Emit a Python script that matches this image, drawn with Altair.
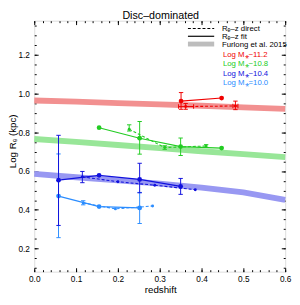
import altair as alt
import pandas as pd

# ---------------- data ----------------
band_z = [0.0, 0.1, 0.2, 0.3, 0.4, 0.5, 0.6]
band_red = [0.963, 0.957, 0.950, 0.943, 0.936, 0.928, 0.920]
band_green = [0.765, 0.750, 0.734, 0.718, 0.702, 0.687, 0.672]
band_blue = [0.585, 0.568, 0.552, 0.535, 0.515, 0.490, 0.452]

red_fit_z = [0.351, 0.448]
red_fit_r = [0.960, 0.976]
red_fit_lo = [0.918, None]
red_fit_hi = [1.004, None]
red_dir_z = [0.362, 0.481]
red_dir_r = [0.932, 0.935]
red_dir_lo = [0.918, 0.916]
red_dir_hi = [0.948, 0.960]
red_dir_zlo = [0.345, 0.475]
red_dir_zhi = [0.381, 0.487]

green_fit_z = [0.155, 0.252, 0.350, 0.448]
green_fit_r = [0.823, 0.769, 0.726, 0.718]
green_fit_lo = [None, 0.687, 0.680, None]
green_fit_hi = [None, 0.855, 0.770, None]
green_dir_z = [0.227, 0.312, 0.411]
green_dir_r = [0.815, 0.721, 0.729]
green_dir_lo = [0.806, 0.712, 0.722]
green_dir_hi = [0.838, 0.730, 0.736]

blue_fit_z = [0.058, 0.155, 0.252, 0.350]
blue_fit_r = [0.553, 0.578, 0.557, 0.521]
blue_fit_lo = [0.320, None, 0.488, 0.480]
blue_fit_hi = [0.784, None, 0.640, 0.562]
blue_dir_z = [0.115, 0.200, 0.288, 0.385]
blue_dir_r = [0.570, 0.545, 0.527, 0.504]
blue_dir_lo = [0.540, None, None, None]
blue_dir_hi = [0.598, None, None, None]

lblue_fit_z = [0.058, 0.155, 0.252]
lblue_fit_r = [0.471, 0.417, 0.410]
lblue_fit_lo = [0.257, None, 0.330]
lblue_fit_hi = [0.688, None, 0.490]
lblue_dir_z = [0.117, 0.194, 0.283]
lblue_dir_r = [0.436, 0.405, 0.420]
lblue_dir_lo = [0.426, None, None]
lblue_dir_hi = [0.447, None, None]

x_major = [0.0, 0.1, 0.2, 0.3, 0.4, 0.5, 0.6]
x_minor = [round(i * 0.02, 2) for i in range(31)]
y_major = [0.2, 0.4, 0.6, 0.8, 1.0, 1.2]
y_minor = [round(0.1 + i * 0.05, 2) for i in range(26)]

title_text = "Disc–dominated"
legend_top = ["Rₑ–z direct", "Rₑ–z fit", "Furlong et al. 2015"]
legend_mass = ["Log M⁎~11.2", "Log M⁎~10.8", "Log M⁎~10.4", "Log M⁎=10.0"]

# ---------------- styling ----------------
FONT = "Liberation Sans"
C_RED, C_GREEN, C_BLUE, C_LBLUE = "#f00000", "#22cc22", "#1010dd", "#2a8cff"
B_RED, B_GREEN, B_BLUE = "#f29090", "#98e698", "#9898f2"

xs = alt.Scale(domain=[0.0, 0.6], nice=False, zero=False)
ys = alt.Scale(domain=[0.082, 1.374], nice=False, zero=False)


def X(f, axis=None):
    return alt.X(f, type="quantitative", scale=xs, axis=axis)


def Y(f, axis=None):
    return alt.Y(f, type="quantitative", scale=ys, axis=axis)


layers = []

# Furlong bands
for vals, col in [(band_red, B_RED), (band_green, B_GREEN), (band_blue, B_BLUE)]:
    df = pd.DataFrame({"z": band_z, "r": vals})
    layers.append(alt.Chart(df).mark_line(color=col, strokeWidth=6, strokeCap="butt")
                  .encode(x=X("z"), y=Y("r")))


def series(color, fz, fr, flo, fhi, dz, dr, dlo, dhi, dzlo=None, dzhi=None):
    out = []
    fdf = pd.DataFrame({"z": fz, "r": fr, "lo": flo, "hi": fhi})
    ddf = pd.DataFrame({"z": dz, "r": dr, "lo": dlo, "hi": dhi})
    if dzlo is not None:
        ddf["zlo"] = dzlo
        ddf["zhi"] = dzhi
    err = pd.concat([fdf, ddf[["z", "r", "lo", "hi"]]]).dropna(subset=["lo", "hi"])
    err = err.astype(float)
    out.append(alt.Chart(fdf).mark_line(color=color, strokeWidth=1.2).encode(x=X("z"), y=Y("r")))
    out.append(alt.Chart(ddf).mark_line(color=color, strokeWidth=1.1, strokeDash=[3, 2])
               .encode(x=X("z"), y=Y("r")))
    out.append(alt.Chart(err).mark_rule(color=color, strokeWidth=1)
               .encode(x=X("z"), y=Y("lo"), y2=alt.Y2("hi")))
    for f in ["lo", "hi"]:
        out.append(alt.Chart(err).mark_tick(color=color, orient="horizontal", size=4.5,
                                            thickness=1, opacity=1)
                   .encode(x=X("z"), y=Y(f)))
    if dzlo is not None:
        out.append(alt.Chart(ddf).mark_rule(color=color, strokeWidth=1)
                   .encode(x=X("zlo"), x2=alt.X2("zhi"), y=Y("r")))
        for f in ["zlo", "zhi"]:
            out.append(alt.Chart(ddf).mark_tick(color=color, orient="vertical", size=4.5,
                                                thickness=1, opacity=1)
                       .encode(x=X(f), y=Y("r")))
    out.append(alt.Chart(fdf).mark_circle(color=color, size=24, opacity=1)
               .encode(x=X("z"), y=Y("r")))
    out.append(alt.Chart(ddf).mark_circle(color=color, size=9, opacity=1)
               .encode(x=X("z"), y=Y("r")))
    return out


layers += series(C_LBLUE, lblue_fit_z, lblue_fit_r, lblue_fit_lo, lblue_fit_hi,
                 lblue_dir_z, lblue_dir_r, lblue_dir_lo, lblue_dir_hi)
layers += series(C_BLUE, blue_fit_z, blue_fit_r, blue_fit_lo, blue_fit_hi,
                 blue_dir_z, blue_dir_r, blue_dir_lo, blue_dir_hi)
layers += series(C_GREEN, green_fit_z, green_fit_r, green_fit_lo, green_fit_hi,
                 green_dir_z, green_dir_r, green_dir_lo, green_dir_hi)
layers += series(C_RED, red_fit_z, red_fit_r, red_fit_lo, red_fit_hi,
                 red_dir_z, red_dir_r, red_dir_lo, red_dir_hi, red_dir_zlo, red_dir_zhi)

# ---------------- axes (carriers) ----------------
common = dict(domain=False, grid=False, title=None, tickColor="black", tickWidth=1)
lab = dict(labelFont=FONT, labelFontSize=8.5, labelColor="black", format=".1f",
           labelFlush=False, labelOverlap=False)
ax_xb = alt.Axis(orient="bottom", values=x_major, tickSize=4, offset=-4, labelPadding=3, **lab, **common)
ax_xbm = alt.Axis(orient="bottom", values=x_minor, tickSize=2, offset=-2, labels=False, **common)
ax_xt = alt.Axis(orient="top", values=x_major, tickSize=4, offset=-4, labels=False, **common)
ax_xtm = alt.Axis(orient="top", values=x_minor, tickSize=2, offset=-2, labels=False, **common)
ax_yl = alt.Axis(orient="left", values=y_major, tickSize=4, offset=-4, labelPadding=5, **lab, **common)
ax_ylm = alt.Axis(orient="left", values=y_minor, tickSize=2, offset=-2, labels=False, **common)
ax_yr = alt.Axis(orient="right", values=y_major, tickSize=4, offset=-4, labels=False, **common)
ax_yrm = alt.Axis(orient="right", values=y_minor, tickSize=2, offset=-2, labels=False, **common)

cdf = pd.DataFrame({"z": band_z, "r": band_red})
for xa, ya in [(ax_xb, ax_yl), (ax_xbm, ax_ylm), (ax_xt, ax_yr), (ax_xtm, ax_yrm)]:
    layers.append(alt.Chart(cdf).mark_point(opacity=0).encode(x=X("z", xa), y=Y("r", ya)))

# ---------------- legend, title & axis titles ----------------
one = pd.DataFrame({"k": [0]})
leg_y = [8, 16, 24]
layers.append(alt.Chart(one).mark_rule(color="black", strokeWidth=1.2, strokeDash=[3, 2])
              .encode(x=alt.value(158), x2=alt.value(185), y=alt.value(leg_y[0])))
layers.append(alt.Chart(one).mark_rule(color="black", strokeWidth=1.2)
              .encode(x=alt.value(158), x2=alt.value(185), y=alt.value(leg_y[1])))
layers.append(alt.Chart(one).mark_rule(color="#bdbdbd", strokeWidth=5)
              .encode(x=alt.value(158), x2=alt.value(185), y=alt.value(leg_y[2])))
for txt, yy in zip(legend_top, leg_y):
    layers.append(alt.Chart(one).mark_text(align="left", baseline="middle", font=FONT,
                                           fontSize=8, color="black")
                  .encode(x=alt.value(193), y=alt.value(yy + 1), text=alt.value(txt)))
for txt, yy, col in zip(legend_mass, [35, 45, 54.5, 64], [C_RED, C_GREEN, C_BLUE, C_LBLUE]):
    layers.append(alt.Chart(one).mark_text(align="left", baseline="middle", font=FONT,
                                           fontSize=8, color=col)
                  .encode(x=alt.value(194), y=alt.value(yy), text=alt.value(txt)))

layers.append(alt.Chart(one).mark_text(align="center", baseline="alphabetic", font=FONT,
                                       fontSize=11, color="black")
              .encode(x=alt.value(130), y=alt.value(-1.5), text=alt.value(title_text)))
layers.append(alt.Chart(one).mark_text(align="center", baseline="alphabetic", font=FONT,
                                       fontSize=10, color="black")
              .encode(x=alt.value(130), y=alt.value(280), text=alt.value("redshift")))
layers.append(alt.Chart(one).mark_text(align="center", baseline="middle", font=FONT,
                                       fontSize=10, color="black", angle=270)
              .encode(x=alt.value(-22), y=alt.value(124), text=alt.value("Log Rₑ (kpc)")))

chart = (
    alt.layer(*layers)
    .resolve_axis(x="independent", y="independent")
    .properties(
        width=258,
        height=258,
        autosize=alt.AutoSizeParams(type="none"),
        padding={"left": 27, "top": 9, "right": 7, "bottom": 22},
    )
    .configure_view(stroke="black", strokeWidth=1)
    .configure(background="white")
)

chart.save("out.html", embed_options={"renderer": "svg", "actions": False})
